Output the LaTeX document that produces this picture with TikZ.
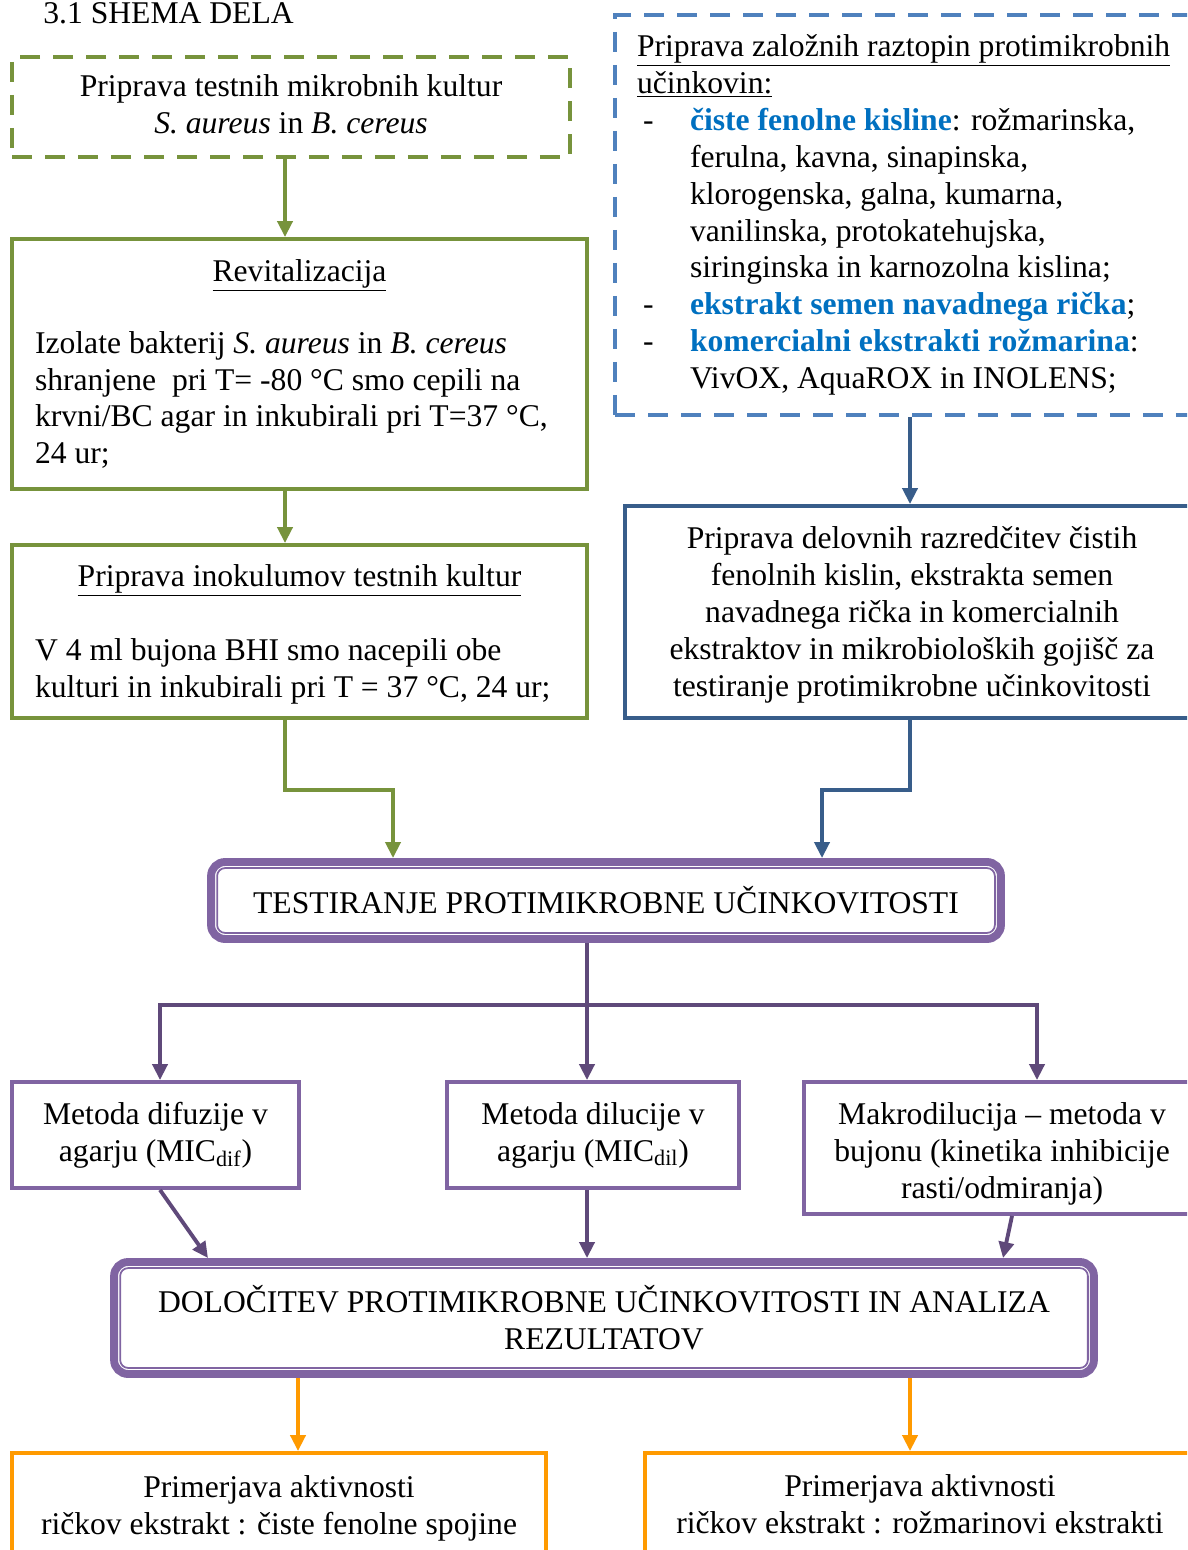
\documentclass[tikz,border=0pt]{standalone}
\usepackage{fontspec}
\setmainfont{Liberation Serif}
\usetikzlibrary{arrows.meta}

\definecolor{zelena}{HTML}{77933C}
\definecolor{modracrt}{HTML}{4F81BD}
\definecolor{modra}{HTML}{385D8A}
\definecolor{modratxt}{HTML}{0070C0}
\definecolor{vijola}{HTML}{8064A2}
\definecolor{vijolatemna}{HTML}{5F497A}
\definecolor{oranzna}{HTML}{FF9A00}

\newcommand{\alineja}{\makebox[1.06cm][l]{\hspace{0.12cm}-}}
\newcommand{\zamik}{\hspace*{1.06cm}}

\begin{document}
\begin{tikzpicture}[
x=0.02cm, y=-0.02cm,
every node/.style={
font=\fontsize{18}{21}\selectfont,
inner sep=0pt
},
okvir/.style={draw, line width=2.2pt},
crtkano/.style={dash pattern=on 0.4cm off 0.26cm},
dvojni/.style={
draw=vijola,
line width=4.5pt,
rounded corners=0.28cm
},
puscica/.style={line width=2.2pt, -{Triangle[length=0.32cm,width=0.3cm]}}
]

\useasboundingbox (0,0) rectangle (1187,1550);
\clip (0,0) rectangle (1187,1550);

\node[anchor=base west] (Nas) at (43,24)
{3.1 SHEMA DELA};

% leva veja
\node[okvir, crtkano, draw=zelena, minimum width=11.16cm, minimum height=2cm, align=center] (Kul) at (291,107)
{Priprava testnih mikrobnih kultur\\
\textit{S. aureus} in \textit{B. cereus}\rule[-3.4pt]{0pt}{0pt}};

\node[okvir, draw=zelena, minimum width=11.5cm, minimum height=5cm, text width=10.58cm, align=flush left] (Rev) at (299.5,364)
{\makebox[10.58cm]{\underline{Revitalizacija}}\\[0.7cm]
Izolate bakterij \textit{S. aureus} in \textit{B. cereus}\\
shranjene~ pri T= -80 °C smo cepili na\\
krvni/BC agar in inkubirali pri T=37 °C,\\
24 ur;};

\node[okvir, draw=zelena, minimum width=11.5cm, minimum height=3.46cm, text width=10.58cm, align=flush left] (Ino) at (299.5,631.5)
{\rule{0pt}{15.6pt}\makebox[10.58cm]{\underline{Priprava inokulumov testnih kultur}}\\[0.75cm]
V 4 ml bujona BHI smo nacepili obe\\
kulturi in inkubirali pri T = 37 °C, 24 ur;};

% desna veja
\node[okvir, crtkano, draw=modracrt, minimum width=12cm, minimum height=8cm, text width=11.12cm, align=flush left] (Zal) at (915,215)
{\underline{Priprava založnih raztopin protimikrobnih}\\
\underline{učinkovin:}\\
\alineja\textbf{\textcolor{modratxt}{čiste fenolne kisline}}: rožmarinska,\\
\zamik ferulna, kavna, sinapinska,\\
\zamik klorogenska, galna, kumarna,\\
\zamik vanilinska, protokatehujska,\\
\zamik siringinska in karnozolna kislina;\\
\alineja\textbf{\textcolor{modratxt}{ekstrakt semen navadnega rička}};\\
\alineja\textbf{\textcolor{modratxt}{komercialni ekstrakti rožmarina}}:\\
\zamik VivOX, AquaROX in INOLENS;};

\node[okvir, draw=modra, minimum width=11.48cm, minimum height=4.24cm, align=center] (Del) at (912,612)
{\rule{0pt}{15.8pt}Priprava delovnih razredčitev čistih\\
fenolnih kislin, ekstrakta semen\\
navadnega rička in komercialnih\\
ekstraktov in mikrobioloških gojišč za\\
testiranje protimikrobne učinkovitosti};

% testiranje
\node[dvojni, minimum width=15.8cm, minimum height=1.54cm] (Test) at (606,900.5)
{TESTIRANJE PROTIMIKROBNE UČINKOVITOSTI};
\draw[vijola, line width=1pt, rounded corners=0.16cm]
([shift={(10,10)}]Test.north west) rectangle ([shift={(-10,-10)}]Test.south east);

% metode
\node[okvir, draw=vijola, minimum width=5.74cm, minimum height=2.12cm, align=center] (Dif) at (155.5,1135)
{Metoda difuzije v\\
agarju (MIC\textsubscript{dif})};

\node[okvir, draw=vijola, minimum width=5.84cm, minimum height=2.12cm, align=center] (Dil) at (593,1135)
{Metoda dilucije v\\
agarju (MIC\textsubscript{dil})};

\node[okvir, draw=vijola, minimum width=7.92cm, minimum height=2.64cm, align=center] (Mak) at (1002,1148)
{\rule{0pt}{19.2pt}Makrodilucija – metoda v\\
bujonu (kinetika inhibicije\\
rasti/odmiranja)};

% dolocitev
\node[dvojni, minimum width=19.6cm, minimum height=2.24cm, align=center] (Dol) at (604,1318)
{DOLOČITEV PROTIMIKROBNE UČINKOVITOSTI IN ANALIZA\\
REZULTATOV};
\draw[vijola, line width=1pt, rounded corners=0.16cm]
([shift={(10,10)}]Dol.north west) rectangle ([shift={(-10,-10)}]Dol.south east);

% primerjava
\node[okvir, draw=oranzna, minimum width=10.68cm, minimum height=2.06cm, align=center] (Pr1) at (279,1504.5)
{\rule{0pt}{16.8pt}Primerjava aktivnosti\\
ričkov ekstrakt : čiste fenolne spojine};

\node[okvir, draw=oranzna, minimum width=11cm, minimum height=2.06cm, align=center] (Pr2) at (920,1504.5)
{Primerjava aktivnosti\\
ričkov ekstrakt : rožmarinovi ekstrakti};

\coordinate (Lev) at (160,1005);
\coordinate (Des) at (1037,1005);

\draw[puscica, zelena] (Kul.south -| 285,0) -- (Rev.north -| 285,0);
\draw[puscica, zelena] (Rev.south -| 285,0) -- (Ino.north -| 285,0);
\draw[puscica, zelena] (Ino.south -| 285,0) -- (285,790) -| (Test.north -| 393,0);

\draw[puscica, modra] (Zal.south -| 910,0) -- (Del.north -| 910,0);
\draw[puscica, modra] (Del.south -| 910,0) -- (910,790) -| (Test.north -| 822,0);

\draw[puscica, vijolatemna] (Test.south -| 587,0) -- (Dil.north -| 587,0);
\draw[vijolatemna, line width=2.2pt, line cap=rect] (Lev) -- (Des);
\draw[puscica, vijolatemna] (Lev) -- (Dif.north -| Lev);
\draw[puscica, vijolatemna] (Des) -- (Mak.north -| Des);

\draw[puscica, vijolatemna] (Dif.south -| 160,0) -- (Dol.north -| 208,0);
\draw[puscica, vijolatemna] (Dil.south -| 587,0) -- (Dol.north -| 587,0);
\draw[puscica, vijolatemna] (Mak.south -| 1012,0) -- (Dol.north -| 1003,0);

\draw[puscica, oranzna] (Dol.south -| 298,0) -- (Pr1.north -| 298,0);
\draw[puscica, oranzna] (Dol.south -| 910,0) -- (Pr2.north -| 910,0);

\end{tikzpicture}
\end{document}
